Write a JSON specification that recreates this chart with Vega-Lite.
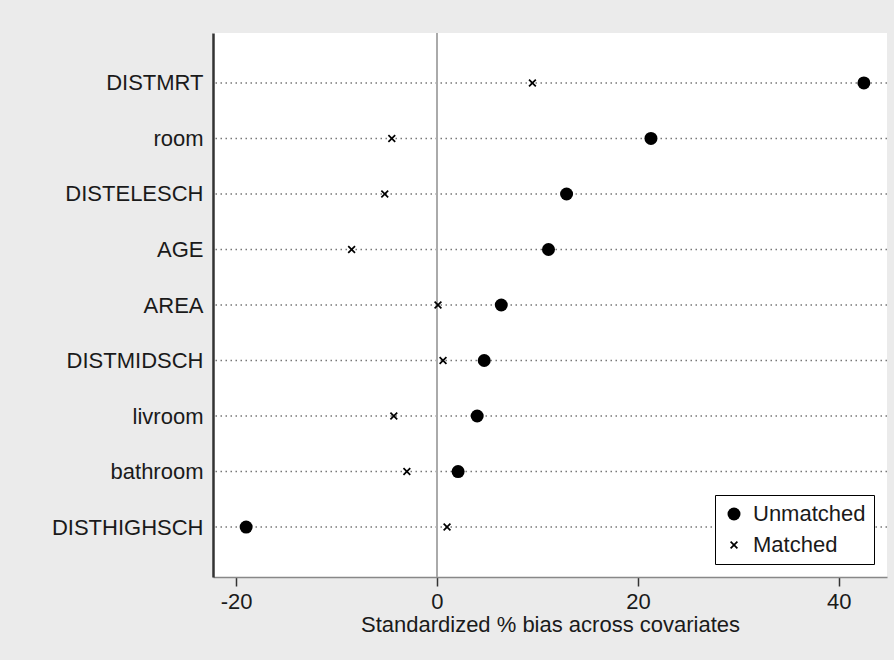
{
  "$schema": "https://vega.github.io/schema/vega-lite/v6.json",
  "width": 674,
  "height": 544,
  "autosize": {"type": "none"},
  "padding": {"left": 213, "top": 33, "right": 7, "bottom": 83},
  "background": "#ebebeb",
  "config": {"view": {"fill": "white", "stroke": null}, "font": "Liberation Sans"},
  "datasets": {
    "rows": [
      {"var": "DISTMRT"}, {"var": "room"}, {"var": "DISTELESCH"}, {"var": "AGE"}, {"var": "AREA"},
      {"var": "DISTMIDSCH"}, {"var": "livroom"}, {"var": "bathroom"}, {"var": "DISTHIGHSCH"}
    ],
    "pts": [
      {"var": "DISTMRT", "group": "Unmatched", "bias": 42.5},
      {"var": "DISTMRT", "group": "Matched", "bias": 9.5},
      {"var": "room", "group": "Unmatched", "bias": 21.3},
      {"var": "room", "group": "Matched", "bias": -4.5},
      {"var": "DISTELESCH", "group": "Unmatched", "bias": 12.9},
      {"var": "DISTELESCH", "group": "Matched", "bias": -5.2},
      {"var": "AGE", "group": "Unmatched", "bias": 11.1},
      {"var": "AGE", "group": "Matched", "bias": -8.5},
      {"var": "AREA", "group": "Unmatched", "bias": 6.4},
      {"var": "AREA", "group": "Matched", "bias": 0.1},
      {"var": "DISTMIDSCH", "group": "Unmatched", "bias": 4.7},
      {"var": "DISTMIDSCH", "group": "Matched", "bias": 0.6},
      {"var": "livroom", "group": "Unmatched", "bias": 4.0},
      {"var": "livroom", "group": "Matched", "bias": -4.3},
      {"var": "bathroom", "group": "Unmatched", "bias": 2.1},
      {"var": "bathroom", "group": "Matched", "bias": -3.0},
      {"var": "DISTHIGHSCH", "group": "Unmatched", "bias": -19.0},
      {"var": "DISTHIGHSCH", "group": "Matched", "bias": 1.0}
    ]
  },
  "layer": [
    {
      "data": {"name": "rows"},
      "mark": {"type": "rule", "color": "#777", "strokeDash": [1.5, 3.5], "strokeWidth": 1.5},
      "encoding": {
        "y": {
          "field": "var", "type": "nominal",
          "sort": ["DISTMRT", "room", "DISTELESCH", "AGE", "AREA", "DISTMIDSCH", "livroom", "bathroom", "DISTHIGHSCH"],
          "scale": {"type": "point", "padding": 0.9},
          "axis": {"title": null, "ticks": false, "grid": false, "domainColor": "#333", "domainWidth": 2.5, "labelFontSize": 22, "labelColor": "#1a1a1a", "labelPadding": 10}
        }
      }
    },
    {
      "data": {"values": [{}]},
      "mark": {"type": "rule", "color": "#aaa", "strokeWidth": 2},
      "encoding": {
        "x": {"datum": 0, "type": "quantitative"}
      }
    },
    {
      "data": {"name": "pts"},
      "mark": {"type": "point", "filled": true, "color": "black", "opacity": 1, "strokeWidth": 0},
      "encoding": {
        "y": {
          "field": "var", "type": "nominal",
          "sort": ["DISTMRT", "room", "DISTELESCH", "AGE", "AREA", "DISTMIDSCH", "livroom", "bathroom", "DISTHIGHSCH"],
          "scale": {"type": "point", "padding": 0.9},
          "axis": {"title": null, "ticks": false, "grid": false, "domainColor": "#333", "domainWidth": 2.5, "labelFontSize": 22, "labelColor": "#1a1a1a", "labelPadding": 10}
        },
        "x": {
          "field": "bias", "type": "quantitative",
          "scale": {"domain": [-22.3, 44.8], "nice": false, "zero": false},
          "axis": {"title": "Standardized % bias across covariates", "values": [-20, 0, 20, 40], "labelExpr": "datum.value + ''", "grid": false, "domainColor": "#888", "domainWidth": 1.5, "tickColor": "#333", "tickSize": 9, "tickWidth": 1.5, "labelFontSize": 22, "labelPadding": 5, "labelColor": "#1a1a1a", "titleFontSize": 22, "titleFontWeight": "normal", "titleColor": "#1a1a1a", "titlePadding": 2}
        },
        "shape": {
          "field": "group", "type": "nominal",
          "scale": {"domain": ["Unmatched", "Matched"], "range": ["circle", "M-0.7,-1L0,-0.3L0.7,-1L1,-0.7L0.3,0L1,0.7L0.7,1L0,0.3L-0.7,1L-1,0.7L-0.3,0L-1,-0.7Z"]},
          "legend": {"orient": "none", "legendX": 502, "legendY": 462, "title": null, "strokeColor": "black", "fillColor": "white", "padding": 8, "labelFontSize": 22, "labelColor": "#1a1a1a", "rowPadding": 9, "labelOffset": 8}
        },
        "size": {
          "field": "group", "type": "nominal",
          "scale": {"domain": ["Unmatched", "Matched"], "range": [169, 64]},
          "legend": {"orient": "none", "legendX": 502, "legendY": 462, "title": null, "strokeColor": "black", "fillColor": "white", "padding": 8, "labelFontSize": 22, "labelColor": "#1a1a1a", "rowPadding": 9, "labelOffset": 8}
        }
      }
    }
  ]
}
